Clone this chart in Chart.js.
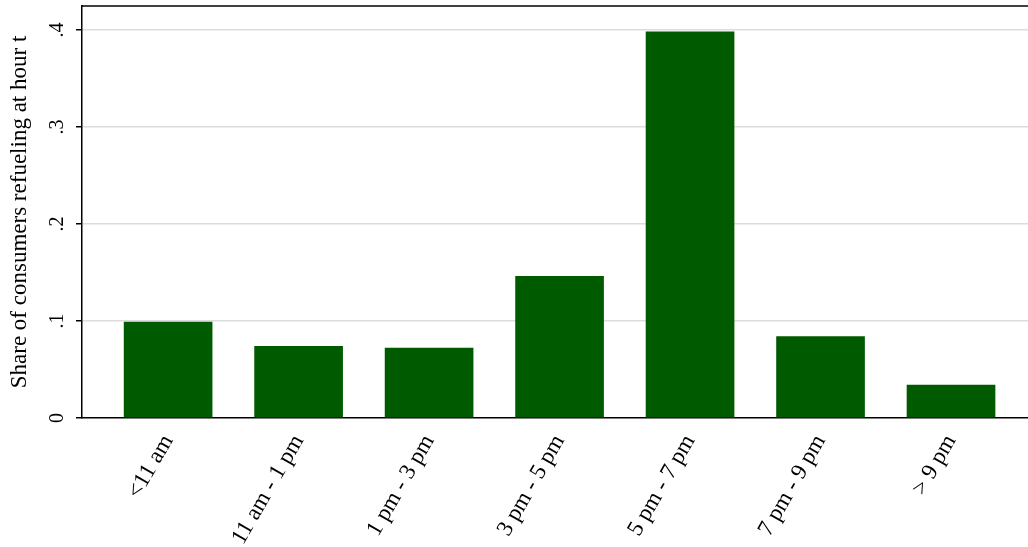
<!DOCTYPE html>
<html><head><meta charset="utf-8">
<script src="https://cdn.jsdelivr.net/npm/chart.js@4"></script>
<style>html,body{margin:0;background:#fff}#wrap{width:1028px;height:547px}</style>
</head><body><div id="wrap"><canvas id="c"></canvas></div>
<script>
const categories = ['<11 am', '11 am - 1 pm', '1 pm - 3 pm', '3 pm - 5 pm', '5 pm - 7 pm', '7 pm - 9 pm', '> 9 pm'];
const shares = [0.099, 0.074, 0.072, 0.146, 0.398, 0.084, 0.034];
const yTicks = [0, 0.1, 0.2, 0.3, 0.4];
const yTickLabels = ['0', '.1', '.2', '.3', '.4'];
const FONT = '"Liberation Serif", "DejaVu Serif", serif';

// y tick labels in the reference are rotated 90 degrees
const rotatedYTicks = {
    id: 'rotatedYTicks',
    afterDraw(chart) {
        const {ctx, scales: {y}} = chart;
        ctx.save();
        ctx.font = '20px ' + FONT;
        ctx.fillStyle = '#000';
        ctx.textAlign = 'center';
        ctx.textBaseline = 'bottom';
        yTicks.forEach((v, i) => {
            const py = y.getPixelForValue(v);
            ctx.save();
            ctx.translate(y.right - 14, py);
            ctx.rotate(-Math.PI / 2);
            ctx.fillText(yTickLabels[i], 0, 0);
            ctx.restore();
        });
        // top frame line
        ctx.strokeStyle = '#000';
        ctx.lineWidth = 1.5;
        ctx.beginPath();
        ctx.moveTo(chart.chartArea.left, chart.chartArea.top);
        ctx.lineTo(chart.chartArea.right, chart.chartArea.top);
        ctx.stroke();
        ctx.restore();
    }
};

new Chart(document.getElementById('c'), {
    type: 'bar',
    data: {
        datasets: [{
            data: shares.map((v, i) => ({x: i, y: v})),
            backgroundColor: '#005a00', barThickness: 88
        }]
    },
    options: {
        responsive: true, maintainAspectRatio: false, animation: false,
        layout: {padding: {top: 6, right: 0, left: 0, bottom: 0}},
        plugins: {legend: {display: false}, tooltip: {enabled: false}},
        scales: {
            x: {
                type: 'linear', min: -0.66, max: 6.59, offset: false,
                afterBuildTicks: s => { s.ticks = categories.map((c, i) => ({value: i})); },
                afterFit: s => { s.height = 129; },
                grid: {display: false},
                border: {color: '#000', width: 1.5},
                ticks: {color: '#000', font: {family: FONT, size: 23}, minRotation: 60, maxRotation: 60, padding: 4,
                        autoSkip: false, callback: v => categories[v]}
            },
            y: {
                min: 0, max: 0.4247,
                afterBuildTicks: s => { s.ticks = yTicks.map(v => ({value: v})); },
                afterFit: s => { s.width = 82; },
                grid: {color: v => v.tick.value === 0 ? 'rgba(0,0,0,0)' : '#dcdcdc', lineWidth: 1.5, drawTicks: true, tickColor: '#000', tickLength: 6},
                border: {color: '#000', width: 1.5},
                ticks: {color: 'rgba(0,0,0,0)', font: {size: 1}},
                title: {display: true, text: 'Share of consumers refueling at hour t', color: '#000', font: {family: FONT, size: 23}, padding: {top: 6, bottom: 0}}
            }
        }
    },
    plugins: [rotatedYTicks]
});
</script></body></html>
